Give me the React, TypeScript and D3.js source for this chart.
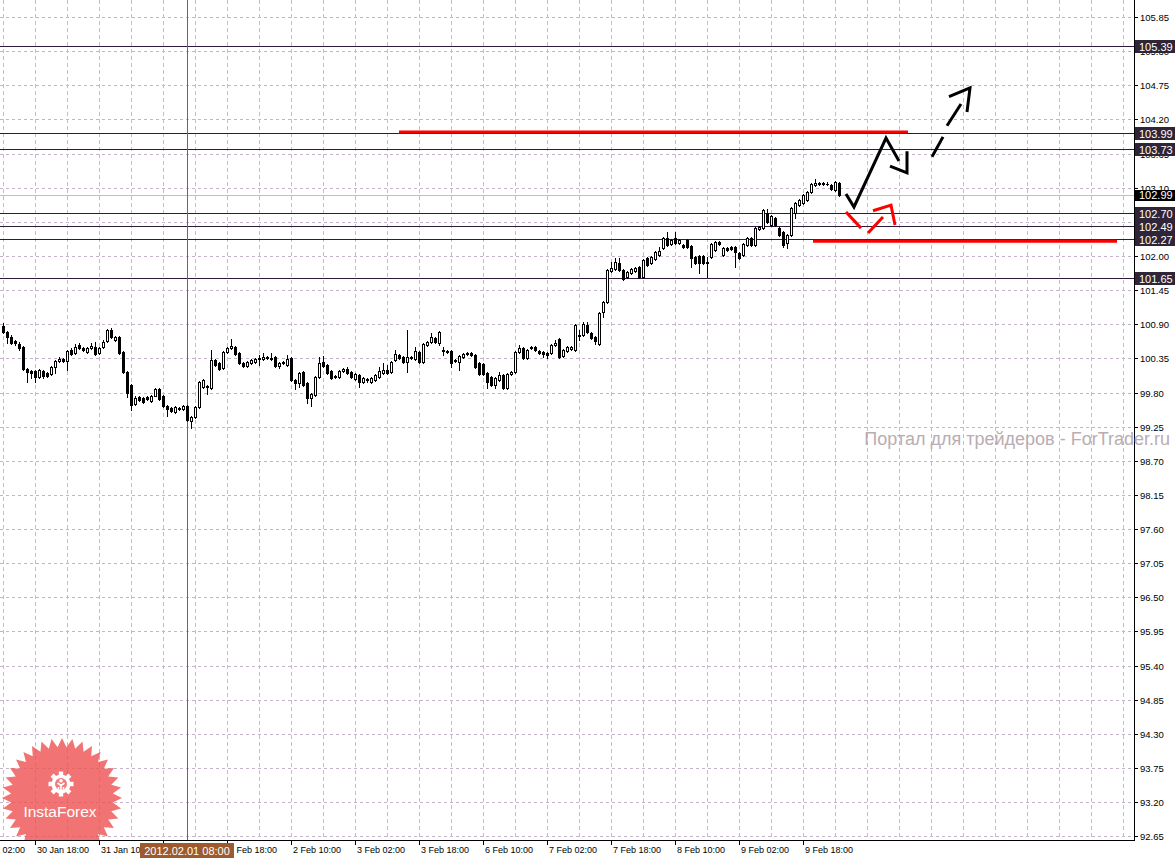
import React from 'react';
import * as d3 from 'd3';

const W = 1175;
const H = 858;
const PLOT_R = 1134;
const PLOT_B = 840;

// Hourly candles, bar 0 = 30 Jan 10:00
const opens = [
  100.87,100.78,100.70,100.63,100.58,100.53,100.18,100.15,100.15,100.05,
  100.15,100.12,100.10,100.21,100.31,100.34,100.31,100.49,100.44,100.57,
  100.52,100.45,100.52,100.53,100.44,100.53,100.63,100.81,100.65,100.70,
  100.45,100.13,99.92,99.62,99.73,99.71,99.73,99.66,99.74,99.86,
  99.74,99.58,99.55,99.49,99.55,99.53,99.58,99.34,99.41,99.57,
  99.89,99.89,99.87,100.33,100.28,100.20,100.45,100.52,100.53,100.44,
  100.28,100.23,100.28,100.29,100.34,100.34,100.36,100.34,100.37,100.23,
  100.28,100.24,100.36,100.00,99.95,100.13,99.95,99.71,99.76,100.05,
  100.29,100.24,100.15,100.07,100.05,100.15,100.18,100.13,100.02,100.08,
  99.97,100.00,99.97,100.00,100.05,100.12,100.16,100.13,100.33,100.41,
  100.37,100.29,100.36,100.34,100.45,100.29,100.57,100.61,100.68,100.60,
  100.49,100.47,100.47,100.33,100.29,100.37,100.42,100.44,100.40,100.28,
  100.26,100.12,100.05,99.92,100.00,100.08,99.87,100.10,100.13,100.45,
  100.52,100.36,100.52,100.53,100.47,100.45,100.44,100.44,100.57,100.66,
  100.39,100.47,100.50,100.49,100.71,100.73,100.89,100.76,100.70,100.58,
  101.10,101.26,101.76,101.79,101.89,101.78,101.66,101.73,101.76,101.82,
  101.66,101.97,101.89,101.95,102.02,102.13,102.29,102.19,102.29,102.21,
  102.18,102.26,102.16,101.99,102.00,102.00,101.90,101.99,102.10,102.23,
  102.02,102.13,102.15,102.15,102.05,102.02,102.18,102.29,102.18,102.44,
  102.45,102.69,102.50,102.61,102.45,102.39,102.21,102.34,102.69,102.82,
  102.85,102.90,103.03,103.15,103.16,103.16,103.16,103.15,103.06,103.18,
];
const highs = [
  100.92,100.79,100.73,100.65,100.61,100.55,100.20,100.16,100.16,100.18,
  100.16,100.13,100.23,100.33,100.37,100.36,100.49,100.52,100.58,100.60,
  100.53,100.53,100.60,100.61,100.53,100.65,100.83,100.84,100.71,100.71,
  100.47,100.15,99.94,99.74,99.74,99.73,99.74,99.76,99.87,99.87,
  99.76,99.60,99.57,99.58,99.57,99.60,99.60,99.42,99.58,99.99,
  100.02,99.92,100.49,100.34,100.29,100.47,100.53,100.66,100.55,100.45,
  100.29,100.31,100.34,100.36,100.40,100.44,100.39,100.44,100.39,100.29,
  100.31,100.40,100.37,100.02,100.13,100.15,99.97,99.79,100.07,100.37,
  100.39,100.26,100.16,100.08,100.16,100.20,100.21,100.15,100.12,100.10,
  100.05,100.04,100.05,100.10,100.21,100.28,100.24,100.31,100.49,100.42,
  100.39,100.81,100.39,100.53,100.47,100.60,100.63,100.76,100.70,100.79,
  100.53,100.49,100.49,100.34,100.40,100.44,100.45,100.45,100.42,100.29,
  100.28,100.13,100.07,100.05,100.13,100.10,100.12,100.15,100.47,100.57,
  100.53,100.50,100.55,100.55,100.49,100.47,100.45,100.58,100.65,100.68,
  100.50,100.55,100.55,100.91,100.81,100.94,100.94,100.78,100.71,101.10,
  101.28,101.79,101.90,101.97,101.97,101.79,101.76,101.81,101.82,101.84,
  101.95,101.99,102.00,102.08,102.15,102.31,102.39,102.27,102.39,102.27,
  102.19,102.27,102.18,102.00,102.02,102.02,101.99,102.21,102.24,102.24,
  102.15,102.15,102.16,102.16,102.07,102.21,102.31,102.31,102.47,102.48,
  102.76,102.76,102.66,102.63,102.47,102.40,102.36,102.79,102.87,102.92,
  103.00,103.05,103.18,103.24,103.19,103.19,103.19,103.16,103.21,103.19,
];
const lows = [
  100.76,100.60,100.58,100.57,100.49,100.16,99.97,100.04,99.97,100.03,
  100.03,100.05,100.08,100.12,100.29,100.29,100.16,100.41,100.42,100.50,
  100.47,100.44,100.50,100.40,100.42,100.52,100.61,100.68,100.63,100.42,
  100.12,99.73,99.52,99.60,99.66,99.63,99.68,99.65,99.74,99.68,
  99.57,99.42,99.49,99.47,99.52,99.52,99.34,99.23,99.39,99.55,
  99.87,99.78,99.86,100.23,100.16,100.18,100.44,100.50,100.40,100.26,
  100.21,100.21,100.26,100.28,100.24,100.33,100.34,100.33,100.21,100.20,
  100.26,100.23,99.99,99.86,99.89,99.91,99.63,99.58,99.74,100.04,
  100.21,100.10,100.02,100.04,100.04,100.13,100.10,100.04,100.00,99.89,
  99.95,99.97,99.95,99.99,100.04,100.10,100.10,100.12,100.31,100.34,
  100.28,100.13,100.34,100.33,100.28,100.28,100.55,100.60,100.60,100.57,
  100.41,100.44,100.21,100.29,100.16,100.36,100.40,100.39,100.20,100.08,
  100.08,99.87,99.91,99.87,99.99,99.86,99.86,100.08,100.12,100.44,
  100.34,100.34,100.50,100.47,100.42,100.37,100.36,100.42,100.55,100.36,
  100.37,100.45,100.49,100.47,100.65,100.71,100.76,100.66,100.58,100.57,
  101.02,101.24,101.74,101.78,101.76,101.61,101.65,101.71,101.74,101.65,
  101.65,101.84,101.87,101.94,102.00,102.11,102.16,102.18,102.19,102.19,
  102.13,102.13,101.82,101.87,101.73,101.87,101.66,101.97,102.08,102.18,
  102.00,102.08,102.10,101.82,101.95,102.00,102.16,102.16,102.16,102.42,
  102.44,102.53,102.49,102.49,102.32,102.15,102.13,102.32,102.61,102.81,
  102.84,102.89,103.02,103.13,103.15,103.15,103.15,103.06,103.05,102.97,
];
const closes = [
  100.78,100.70,100.60,100.60,100.52,100.18,100.13,100.12,100.05,100.16,
  100.07,100.07,100.21,100.31,100.34,100.31,100.47,100.42,100.53,100.52,
  100.49,100.52,100.55,100.42,100.52,100.61,100.81,100.70,100.70,100.44,
  100.13,99.79,99.60,99.71,99.68,99.65,99.70,99.74,99.86,99.70,
  99.58,99.53,99.50,99.57,99.53,99.58,99.36,99.41,99.57,99.97,
  100.00,99.90,100.33,100.24,100.18,100.45,100.52,100.55,100.42,100.28,
  100.23,100.29,100.33,100.34,100.36,100.37,100.37,100.36,100.23,100.28,
  100.29,100.34,100.00,99.95,100.12,99.92,99.71,99.78,100.05,100.28,
  100.23,100.12,100.04,100.05,100.15,100.18,100.12,100.05,100.10,99.97,
  100.04,100.02,100.04,100.08,100.15,100.16,100.12,100.29,100.42,100.36,
  100.29,100.37,100.37,100.47,100.29,100.58,100.61,100.70,100.61,100.78,
  100.47,100.45,100.28,100.31,100.39,100.42,100.44,100.40,100.21,100.10,
  100.10,99.97,99.92,100.04,100.08,99.87,100.10,100.13,100.45,100.52,
  100.36,100.49,100.53,100.49,100.44,100.42,100.40,100.57,100.60,100.37,
  100.49,100.53,100.53,100.89,100.73,100.91,100.78,100.68,100.63,101.08,
  101.26,101.78,101.81,101.90,101.78,101.63,101.74,101.79,101.81,101.66,
  101.94,101.86,101.98,102.07,102.08,102.29,102.18,102.26,102.21,102.26,
  102.15,102.15,101.97,101.89,101.89,101.89,101.89,102.19,102.23,102.19,
  102.13,102.10,102.11,102.07,101.97,102.19,102.29,102.18,102.45,102.47,
  102.74,102.55,102.65,102.50,102.34,102.18,102.34,102.77,102.85,102.90,
  102.98,103.03,103.16,103.18,103.18,103.18,103.16,103.08,103.19,102.99,
];

const priceTicks = [92.65,93.20,93.75,94.30,94.85,95.40,95.95,96.50,97.05,97.60,98.15,98.70,99.25,99.80,100.35,100.90,101.45,102.00,102.55,103.10,103.65,104.20,104.75,105.30,105.85];
const levelLines = [105.39, 103.99, 103.73, 102.70, 102.49, 102.27, 101.65];
const bidPrice = 102.99;

const timeLabels = ["30 Jan 02:00","30 Jan 18:00","31 Jan 10:00","1 Feb 02:00","1 Feb 18:00","2 Feb 10:00","3 Feb 02:00","3 Feb 18:00","6 Feb 10:00","7 Feb 02:00","7 Feb 18:00","8 Feb 10:00","9 Feb 02:00","9 Feb 18:00"];
const timeLabelBars = [-8, 8, 24, 40, 56, 72, 88, 104, 120, 136, 152, 168, 184, 200];
const cursorBar = 46;
const cursorLabel = "2012.02.01 08:00";

// Annotations in [bar, price]
const redLevels = [
  { from: 99, to: 226.25, price: 104.0 },
  { from: 202.5, to: 278.5, price: 102.24 },
];
const blackPath = [[210.75, 103.0], [212.75, 102.79], [220.75, 103.9], [224, 103.53]];
const blackHead = [[221.75, 103.45], [226, 103.34], [226, 103.69]];
const blackDashSegs = [
  [[232.25, 103.6], [235, 103.92]],
  [[236, 104.1], [239.5, 104.45]],
];
const blackDashHead = [[236.5, 104.57], [241.75, 104.71], [241, 104.32]];
const redDashSegs = [
  [[210.75, 102.71], [214.5, 102.45]],
  [[216.25, 102.37], [220, 102.63]],
];
const redHead = [[217.5, 102.73], [222, 102.82], [223, 102.5]];

const watermark = "Портал для трейдеров - ForTrader.ru";
const logoText = "InstaForex";

const FONT = "'Liberation Sans', Arial, sans-serif";

export default function App() {
  const x = d3.scaleLinear().domain([0, 282]).range([3, 1131]);
  const y = d3.scaleLinear().domain([92.65, 105.85]).range([836.3, 17.1]);
  const py = (v: number) => Math.round(y(v));
  const px = (b: number) => Math.round(x(b));
  const line = d3.line<number[]>().x((d) => x(d[0])).y((d) => y(d[1]));

  const gridBars = d3.range(0, 281, 8);

  // starburst logo
  const cxL = 62, cyL = 798, R = 60, r = 51, N = 36;
  const star: [number, number][] = [];
  for (let i = 0; i < N * 2; i++) {
    const a = (Math.PI * i) / N - Math.PI / 2;
    const rr = i % 2 === 0 ? R : r;
    star.push([cxL + rr * Math.cos(a), cyL + rr * Math.sin(a)]);
  }
  const starPath = d3.line()(star) + 'Z';
  const gx = 61, gy = 784;
  const teeth = d3.range(8).map((i) => (i * 360) / 8);

  const candles = opens.map((o, i) => ({ i, o, h: highs[i], l: lows[i], c: closes[i] }));

  return (
    <svg width={W} height={H} style={{ position: 'absolute', left: 0, top: 0, display: 'block' }} fontFamily={FONT}>
      <defs>
        <clipPath id="plot">
          <rect x={0} y={0} width={PLOT_R} height={PLOT_B} />
        </clipPath>
      </defs>
      <rect x={0} y={0} width={W} height={H} fill="#ffffff" />

      <g clipPath="url(#plot)">
        {/* grid */}
        {priceTicks.map((v) => (
          <line key={'h' + v} x1={0} x2={PLOT_R} y1={py(v) + 0.5} y2={py(v) + 0.5} stroke="#c4b4c8" strokeDasharray="3,3" />
        ))}
        {gridBars.map((b) => (
          <line key={'v' + b} x1={px(b) + 0.5} x2={px(b) + 0.5} y1={0} y2={PLOT_B} stroke="#c0c0c0" strokeDasharray="4,3" />
        ))}

        {/* logo */}
        <g>
          <path d={starPath} fill="#ee5050" opacity={0.8} />
          <g transform={`translate(${gx},${gy})`}>
            {teeth.map((a) => (
              <rect key={a} x={-2.2} y={-12.5} width={4.4} height={5} fill="#fff" transform={`rotate(${a})`} />
            ))}
            <circle r={9.5} fill="#fff" />
            <circle r={6} fill="#f27a7a" />
            <circle cx={0} cy={-3.2} r={1.8} fill="#fff" />
            <path d="M-3.5,-1 L0,1.5 L3.5,-1 M0,1.5 L0,9 M-2.5,3 L-2.5,9 M2.5,3 L2.5,9" stroke="#fff" strokeWidth={1.6} fill="none" />
          </g>
          <text x={60} y={817} textAnchor="middle" fontSize={15.5} fill="#ffffff">{logoText}</text>
        </g>

        {/* level lines */}
        {levelLines.map((v) => (
          <line key={'l' + v} x1={0} x2={PLOT_R} y1={py(v) + 0.5} y2={py(v) + 0.5} stroke="#2e1a3c" />
        ))}
        <line x1={0} x2={PLOT_R} y1={py(bidPrice) + 0.5} y2={py(bidPrice) + 0.5} stroke="#c0c0c0" />

        {/* cursor */}
        <line x1={px(cursorBar) + 0.5} x2={px(cursorBar) + 0.5} y1={0} y2={PLOT_B} stroke="#9a5a32" />

        {/* candles */}
        {candles.map((d) => {
          const cx = px(d.i);
          const yh = py(d.h), yl = py(d.l), yo = py(d.o), yc = py(d.c);
          const top = Math.min(yo, yc), bot = Math.max(yo, yc);
          const bull = d.c > d.o;
          return (
            <g key={d.i}>
              <line x1={cx + 0.5} x2={cx + 0.5} y1={yh} y2={yl + 1} stroke="#000" />
              {bull ? (
                <rect x={cx - 0.5} y={top + 0.5} width={2} height={Math.max(bot - top, 1)} fill="#fff" stroke="#000" />
              ) : (
                <rect x={cx - 1} y={top} width={3} height={Math.max(bot - top + 1, 1)} fill="#000" />
              )}
            </g>
          );
        })}

        {/* red thick lines */}
        {redLevels.map((r0, i) => (
          <line key={'r' + i} x1={x(r0.from)} x2={x(r0.to)} y1={y(r0.price)} y2={y(r0.price)} stroke="#ff0000" strokeWidth={3} />
        ))}

        {/* black arrow */}
        <path d={line(blackPath) || ''} fill="none" stroke="#000" strokeWidth={3} strokeLinejoin="miter" />
        <path d={line(blackHead) || ''} fill="none" stroke="#000" strokeWidth={3} />
        {blackDashSegs.map((s, i) => (
          <path key={'bd' + i} d={line(s) || ''} fill="none" stroke="#000" strokeWidth={3} />
        ))}
        <path d={line(blackDashHead) || ''} fill="none" stroke="#000" strokeWidth={3} />

        {/* red arrow */}
        {redDashSegs.map((s, i) => (
          <path key={'rd' + i} d={line(s) || ''} fill="none" stroke="#ff0000" strokeWidth={3} />
        ))}
        <path d={line(redHead) || ''} fill="none" stroke="#ff0000" strokeWidth={3} />
      </g>

      {/* axes */}
      <line x1={PLOT_R + 0.5} x2={PLOT_R + 0.5} y1={0} y2={PLOT_B + 1} stroke="#000" />
      <line x1={0} x2={PLOT_R + 1} y1={PLOT_B + 0.5} y2={PLOT_B + 0.5} stroke="#000" />

      {priceTicks.map((v) => (
        <g key={'t' + v}>
          <line x1={PLOT_R} x2={PLOT_R + 4} y1={py(v) + 0.5} y2={py(v) + 0.5} stroke="#000" />
          <text x={1140} y={py(v) + 4} fontSize={9.5} fill="#000">{v.toFixed(2)}</text>
        </g>
      ))}

      {/* watermark (spans over the price axis) */}
      <text x={1170} y={445} textAnchor="end" fontSize={18} fill="#b6a9ae" opacity={0.95}>{watermark}</text>

      {levelLines.map((v) => (
        <g key={'b' + v}>
          <rect x={1135} y={py(v) - 6} width={40} height={13} fill="#2f2536" />
          <text x={1139} y={py(v) + 4.5} fontSize={11} fill="#ffffff">{v.toFixed(2)}</text>
        </g>
      ))}
      <g>
        <rect x={1135} y={py(bidPrice) - 5} width={40} height={11} fill="#000" />
        <text x={1139} y={py(bidPrice) + 4} fontSize={11} fill="#ffffff">{bidPrice.toFixed(2)}</text>
      </g>

      {timeLabels.map((t, i) => {
        const tx = px(timeLabelBars[i]);
        return (
          <g key={'x' + i}>
            <line x1={tx + 0.5} x2={tx + 0.5} y1={PLOT_B} y2={PLOT_B + 5} stroke="#000" />
            <text x={tx + 2} y={853} fontSize={9} fill="#000">{t}</text>
          </g>
        );
      })}
      <g>
        <rect x={px(cursorBar) - 47} y={843} width={94} height={15} fill="#9c5a2e" />
        <text x={px(cursorBar)} y={855} textAnchor="middle" fontSize={11} fill="#ffffff">{cursorLabel}</text>
      </g>
    </svg>
  );
}
